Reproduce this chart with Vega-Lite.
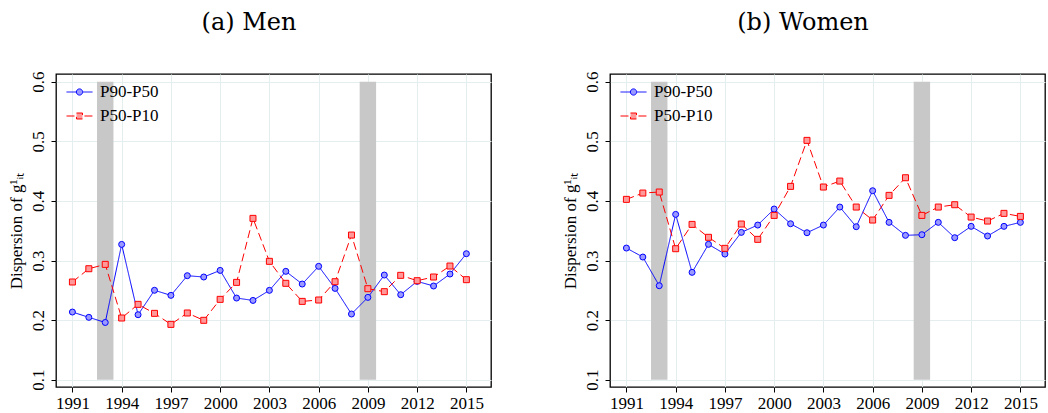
{
  "$schema": "https://vega.github.io/schema/vega-lite/v6.json",
  "background": "white",
  "padding": {"left": 6, "top": 10, "right": 0, "bottom": 3},
  "datasets": {
    "series": [
      {"sex": "Men", "year": 1991, "series": "P90-P50", "value": 0.2135},
      {"sex": "Men", "year": 1992, "series": "P90-P50", "value": 0.2046},
      {"sex": "Men", "year": 1993, "series": "P90-P50", "value": 0.196},
      {"sex": "Men", "year": 1994, "series": "P90-P50", "value": 0.327},
      {"sex": "Men", "year": 1995, "series": "P90-P50", "value": 0.209},
      {"sex": "Men", "year": 1996, "series": "P90-P50", "value": 0.25},
      {"sex": "Men", "year": 1997, "series": "P90-P50", "value": 0.2415},
      {"sex": "Men", "year": 1998, "series": "P90-P50", "value": 0.2745},
      {"sex": "Men", "year": 1999, "series": "P90-P50", "value": 0.2723},
      {"sex": "Men", "year": 2000, "series": "P90-P50", "value": 0.2834},
      {"sex": "Men", "year": 2001, "series": "P90-P50", "value": 0.237},
      {"sex": "Men", "year": 2002, "series": "P90-P50", "value": 0.233},
      {"sex": "Men", "year": 2003, "series": "P90-P50", "value": 0.2499},
      {"sex": "Men", "year": 2004, "series": "P90-P50", "value": 0.2818},
      {"sex": "Men", "year": 2005, "series": "P90-P50", "value": 0.2605},
      {"sex": "Men", "year": 2006, "series": "P90-P50", "value": 0.2902},
      {"sex": "Men", "year": 2007, "series": "P90-P50", "value": 0.2532},
      {"sex": "Men", "year": 2008, "series": "P90-P50", "value": 0.2102},
      {"sex": "Men", "year": 2009, "series": "P90-P50", "value": 0.2381},
      {"sex": "Men", "year": 2010, "series": "P90-P50", "value": 0.2756},
      {"sex": "Men", "year": 2011, "series": "P90-P50", "value": 0.2426},
      {"sex": "Men", "year": 2012, "series": "P90-P50", "value": 0.265},
      {"sex": "Men", "year": 2013, "series": "P90-P50", "value": 0.2572},
      {"sex": "Men", "year": 2014, "series": "P90-P50", "value": 0.2773},
      {"sex": "Men", "year": 2015, "series": "P90-P50", "value": 0.3114},
      {"sex": "Men", "year": 1991, "series": "P50-P10", "value": 0.2639},
      {"sex": "Men", "year": 1992, "series": "P50-P10", "value": 0.2862},
      {"sex": "Men", "year": 1993, "series": "P50-P10", "value": 0.2935},
      {"sex": "Men", "year": 1994, "series": "P50-P10", "value": 0.2035},
      {"sex": "Men", "year": 1995, "series": "P50-P10", "value": 0.2264},
      {"sex": "Men", "year": 1996, "series": "P50-P10", "value": 0.2113},
      {"sex": "Men", "year": 1997, "series": "P50-P10", "value": 0.1928},
      {"sex": "Men", "year": 1998, "series": "P50-P10", "value": 0.2119},
      {"sex": "Men", "year": 1999, "series": "P50-P10", "value": 0.1996},
      {"sex": "Men", "year": 2000, "series": "P50-P10", "value": 0.2348},
      {"sex": "Men", "year": 2001, "series": "P50-P10", "value": 0.2633},
      {"sex": "Men", "year": 2002, "series": "P50-P10", "value": 0.3707},
      {"sex": "Men", "year": 2003, "series": "P50-P10", "value": 0.2986},
      {"sex": "Men", "year": 2004, "series": "P50-P10", "value": 0.2617},
      {"sex": "Men", "year": 2005, "series": "P50-P10", "value": 0.2314},
      {"sex": "Men", "year": 2006, "series": "P50-P10", "value": 0.2337},
      {"sex": "Men", "year": 2007, "series": "P50-P10", "value": 0.2644},
      {"sex": "Men", "year": 2008, "series": "P50-P10", "value": 0.3427},
      {"sex": "Men", "year": 2009, "series": "P50-P10", "value": 0.2527},
      {"sex": "Men", "year": 2010, "series": "P50-P10", "value": 0.2477},
      {"sex": "Men", "year": 2011, "series": "P50-P10", "value": 0.2751},
      {"sex": "Men", "year": 2012, "series": "P50-P10", "value": 0.2661},
      {"sex": "Men", "year": 2013, "series": "P50-P10", "value": 0.2723},
      {"sex": "Men", "year": 2014, "series": "P50-P10", "value": 0.2907},
      {"sex": "Men", "year": 2015, "series": "P50-P10", "value": 0.2678},
      {"sex": "Women", "year": 1991, "series": "P90-P50", "value": 0.3209},
      {"sex": "Women", "year": 1992, "series": "P90-P50", "value": 0.3058},
      {"sex": "Women", "year": 1993, "series": "P90-P50", "value": 0.2577},
      {"sex": "Women", "year": 1994, "series": "P90-P50", "value": 0.3774},
      {"sex": "Women", "year": 1995, "series": "P90-P50", "value": 0.2801},
      {"sex": "Women", "year": 1996, "series": "P90-P50", "value": 0.3271},
      {"sex": "Women", "year": 1997, "series": "P90-P50", "value": 0.3108},
      {"sex": "Women", "year": 1998, "series": "P90-P50", "value": 0.3472},
      {"sex": "Women", "year": 1999, "series": "P90-P50", "value": 0.3595},
      {"sex": "Women", "year": 2000, "series": "P90-P50", "value": 0.3864},
      {"sex": "Women", "year": 2001, "series": "P90-P50", "value": 0.3617},
      {"sex": "Women", "year": 2002, "series": "P90-P50", "value": 0.3466},
      {"sex": "Women", "year": 2003, "series": "P90-P50", "value": 0.3595},
      {"sex": "Women", "year": 2004, "series": "P90-P50", "value": 0.3897},
      {"sex": "Women", "year": 2005, "series": "P90-P50", "value": 0.3567},
      {"sex": "Women", "year": 2006, "series": "P90-P50", "value": 0.4171},
      {"sex": "Women", "year": 2007, "series": "P90-P50", "value": 0.364},
      {"sex": "Women", "year": 2008, "series": "P90-P50", "value": 0.3422},
      {"sex": "Women", "year": 2009, "series": "P90-P50", "value": 0.3433},
      {"sex": "Women", "year": 2010, "series": "P90-P50", "value": 0.364},
      {"sex": "Women", "year": 2011, "series": "P90-P50", "value": 0.3383},
      {"sex": "Women", "year": 2012, "series": "P90-P50", "value": 0.3573},
      {"sex": "Women", "year": 2013, "series": "P90-P50", "value": 0.3411},
      {"sex": "Women", "year": 2014, "series": "P90-P50", "value": 0.3573},
      {"sex": "Women", "year": 2015, "series": "P90-P50", "value": 0.364},
      {"sex": "Women", "year": 1991, "series": "P50-P10", "value": 0.4026},
      {"sex": "Women", "year": 1992, "series": "P50-P10", "value": 0.4132},
      {"sex": "Women", "year": 1993, "series": "P50-P10", "value": 0.4149},
      {"sex": "Women", "year": 1994, "series": "P50-P10", "value": 0.3198},
      {"sex": "Women", "year": 1995, "series": "P50-P10", "value": 0.3606},
      {"sex": "Women", "year": 1996, "series": "P50-P10", "value": 0.3389},
      {"sex": "Women", "year": 1997, "series": "P50-P10", "value": 0.3204},
      {"sex": "Women", "year": 1998, "series": "P50-P10", "value": 0.3612},
      {"sex": "Women", "year": 1999, "series": "P50-P10", "value": 0.3355},
      {"sex": "Women", "year": 2000, "series": "P50-P10", "value": 0.3757},
      {"sex": "Women", "year": 2001, "series": "P50-P10", "value": 0.4244},
      {"sex": "Women", "year": 2002, "series": "P50-P10", "value": 0.5016},
      {"sex": "Women", "year": 2003, "series": "P50-P10", "value": 0.4233},
      {"sex": "Women", "year": 2004, "series": "P50-P10", "value": 0.4333},
      {"sex": "Women", "year": 2005, "series": "P50-P10", "value": 0.3897},
      {"sex": "Women", "year": 2006, "series": "P50-P10", "value": 0.3679},
      {"sex": "Women", "year": 2007, "series": "P50-P10", "value": 0.4093},
      {"sex": "Women", "year": 2008, "series": "P50-P10", "value": 0.4389},
      {"sex": "Women", "year": 2009, "series": "P50-P10", "value": 0.3757},
      {"sex": "Women", "year": 2010, "series": "P50-P10", "value": 0.3897},
      {"sex": "Women", "year": 2011, "series": "P50-P10", "value": 0.3936},
      {"sex": "Women", "year": 2012, "series": "P50-P10", "value": 0.3729},
      {"sex": "Women", "year": 2013, "series": "P50-P10", "value": 0.3662},
      {"sex": "Women", "year": 2014, "series": "P50-P10", "value": 0.3791},
      {"sex": "Women", "year": 2015, "series": "P50-P10", "value": 0.374}
    ],
    "bands": [
      {"start": 1992.5, "end": 1993.5, "low": 0.1, "high": 0.6},
      {"start": 2008.5, "end": 2009.5, "low": 0.1, "high": 0.6}
    ]
  },
  "config": {
    "view": {"stroke": "black", "strokeWidth": 1.3},
    "axis": {
      "labelFont": "Times New Roman",
      "labelFontSize": 17,
      "labelColor": "black",
      "titleFont": "Times New Roman",
      "titleFontSize": 17,
      "titleFontWeight": "normal",
      "titleColor": "black",
      "tickColor": "black",
      "tickSize": 5,
      "domain": false,
      "gridColor": "#e4eeee",
      "gridWidth": 1
    },
    "title": {"font": "DejaVu Serif", "fontSize": 24, "fontWeight": "normal", "color": "black", "frame": "bounds", "anchor": "middle", "offset": 36},
    "legend": {
      "orient": "none",
      "legendX": 10,
      "legendY": 10,
      "padding": 0,
      "title": null,
      "labelFont": "Times New Roman",
      "labelFontSize": 17,
      "labelColor": "black",
      "symbolSize": 676,
      "clipHeight": 16,
      "rowPadding": 7,
      "labelOffset": 7
    }
  },
  "spacing": 68,
  "resolve": {"legend": {"color": "independent", "strokeDash": "independent"}},
  "hconcat": [
    {
      "width": 435,
      "height": 313,
      "title": {"text": "(a) Men"},
      "layer": [
        {
          "data": {"name": "bands"},
          "mark": {"type": "rect", "color": "#c8c8c8"},
          "encoding": {
            "x": {"field": "start", "type": "quantitative", "scale": {"domain": [1990, 2016.5], "nice": false, "zero": false},
                  "axis": {"values": [1991, 1994, 1997, 2000, 2003, 2006, 2009, 2012, 2015], "format": "d", "title": null, "labelPadding": 3}},
            "x2": {"field": "end"},
            "y": {"field": "low", "type": "quantitative", "scale": {"domain": [0.0877, 0.613], "nice": false, "zero": false},
                  "axis": {"values": [0.1, 0.2, 0.3, 0.4, 0.5, 0.6], "format": ".1f", "labelAngle": -90, "title": "Dispersion of g¹ᵢₜ", "labelPadding": 4}},
            "y2": {"field": "high"}
          }
        },
        {
          "data": {"name": "series"},
          "transform": [{"filter": "datum.sex === 'Men'"}],
          "mark": {"type": "line", "strokeWidth": 1},
          "encoding": {
            "x": {"field": "year", "type": "quantitative"},
            "y": {"field": "value", "type": "quantitative"},
            "color": {"field": "series", "type": "nominal", "sort": ["P90-P50", "P50-P10"],
                      "scale": {"domain": ["P90-P50", "P50-P10"], "range": ["#0000ff", "#ff0000"]},
                      "legend": {"encode": {"symbols": {"update": {
                        "shape": {"signal": "datum.value === 'P90-P50' ? 'M-1,0H-0.24M0.24,0H1M-0.24,0A0.24,0.24 0 1 1 0.24,0A0.24,0.24 0 1 1 -0.24,0Z' : 'M-1,0H-0.38M0.38,0H1M-0.23,-0.23H0.23V0.23H-0.23Z'"},
                        "fill": {"signal": "datum.value === 'P90-P50' ? '#9999ff' : '#ff9999'"},
                        "strokeDash": {"value": []},
                        "strokeWidth": {"value": 1}}}}}},
            "strokeDash": {"field": "series", "type": "nominal", "sort": ["P90-P50", "P50-P10"],
                           "scale": {"domain": ["P90-P50", "P50-P10"], "range": [[1, 0], [8, 4]]}, "legend": null}
          }
        },
        {
          "data": {"name": "series"},
          "transform": [{"filter": "datum.sex === 'Men'"}],
          "mark": {"type": "point", "filled": false, "size": 36, "strokeWidth": 1, "opacity": 1},
          "encoding": {
            "x": {"field": "year", "type": "quantitative"},
            "y": {"field": "value", "type": "quantitative"},
            "stroke": {"field": "series", "type": "nominal", "scale": {"domain": ["P90-P50", "P50-P10"], "range": ["#0000ff", "#ff0000"]}, "legend": null},
            "fill": {"field": "series", "type": "nominal", "scale": {"domain": ["P90-P50", "P50-P10"], "range": ["#9999ff", "#ff9999"]}, "legend": null},
            "shape": {"field": "series", "type": "nominal", "scale": {"domain": ["P90-P50", "P50-P10"], "range": ["circle", "square"]}, "legend": null}
          }
        }
      ]
    },
    {
      "width": 435,
      "height": 313,
      "title": {"text": "(b) Women"},
      "layer": [
        {
          "data": {"name": "bands"},
          "mark": {"type": "rect", "color": "#c8c8c8"},
          "encoding": {
            "x": {"field": "start", "type": "quantitative", "scale": {"domain": [1990, 2016.5], "nice": false, "zero": false},
                  "axis": {"values": [1991, 1994, 1997, 2000, 2003, 2006, 2009, 2012, 2015], "format": "d", "title": null, "labelPadding": 3}},
            "x2": {"field": "end"},
            "y": {"field": "low", "type": "quantitative", "scale": {"domain": [0.0877, 0.613], "nice": false, "zero": false},
                  "axis": {"values": [0.1, 0.2, 0.3, 0.4, 0.5, 0.6], "format": ".1f", "labelAngle": -90, "title": "Dispersion of g¹ᵢₜ", "labelPadding": 4}},
            "y2": {"field": "high"}
          }
        },
        {
          "data": {"name": "series"},
          "transform": [{"filter": "datum.sex === 'Women'"}],
          "mark": {"type": "line", "strokeWidth": 1},
          "encoding": {
            "x": {"field": "year", "type": "quantitative"},
            "y": {"field": "value", "type": "quantitative"},
            "color": {"field": "series", "type": "nominal", "sort": ["P90-P50", "P50-P10"],
                      "scale": {"domain": ["P90-P50", "P50-P10"], "range": ["#0000ff", "#ff0000"]},
                      "legend": {"encode": {"symbols": {"update": {
                        "shape": {"signal": "datum.value === 'P90-P50' ? 'M-1,0H-0.24M0.24,0H1M-0.24,0A0.24,0.24 0 1 1 0.24,0A0.24,0.24 0 1 1 -0.24,0Z' : 'M-1,0H-0.38M0.38,0H1M-0.23,-0.23H0.23V0.23H-0.23Z'"},
                        "fill": {"signal": "datum.value === 'P90-P50' ? '#9999ff' : '#ff9999'"},
                        "strokeDash": {"value": []},
                        "strokeWidth": {"value": 1}}}}}},
            "strokeDash": {"field": "series", "type": "nominal", "sort": ["P90-P50", "P50-P10"],
                           "scale": {"domain": ["P90-P50", "P50-P10"], "range": [[1, 0], [8, 4]]}, "legend": null}
          }
        },
        {
          "data": {"name": "series"},
          "transform": [{"filter": "datum.sex === 'Women'"}],
          "mark": {"type": "point", "filled": false, "size": 36, "strokeWidth": 1, "opacity": 1},
          "encoding": {
            "x": {"field": "year", "type": "quantitative"},
            "y": {"field": "value", "type": "quantitative"},
            "stroke": {"field": "series", "type": "nominal", "scale": {"domain": ["P90-P50", "P50-P10"], "range": ["#0000ff", "#ff0000"]}, "legend": null},
            "fill": {"field": "series", "type": "nominal", "scale": {"domain": ["P90-P50", "P50-P10"], "range": ["#9999ff", "#ff9999"]}, "legend": null},
            "shape": {"field": "series", "type": "nominal", "scale": {"domain": ["P90-P50", "P50-P10"], "range": ["circle", "square"]}, "legend": null}
          }
        }
      ]
    }
  ]
}
